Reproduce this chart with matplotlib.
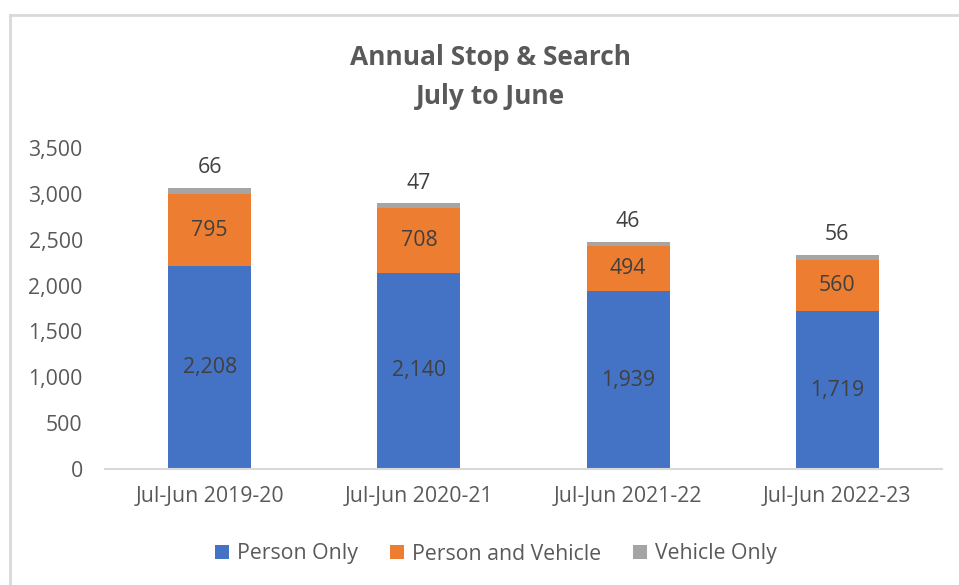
import matplotlib.pyplot as plt
from matplotlib.lines import Line2D
from matplotlib.ticker import FuncFormatter

plt.rcParams['font.family'] = ['Open Sans', 'DejaVu Sans']

# Annual stop & search counts, July to June
periods = ["Jul-Jun 2019-20", "Jul-Jun 2020-21", "Jul-Jun 2021-22", "Jul-Jun 2022-23"]
person_only = [2208, 2140, 1939, 1719]
person_and_vehicle = [795, 708, 494, 560]
vehicle_only = [66, 47, 46, 56]

BLUE = "#4472C4"
ORANGE = "#ED7D31"
GREY = "#A5A5A5"
TEXT = "#595959"
LABEL = "#404040"

fig = plt.figure(figsize=(9.59, 5.85), dpi=100)
ax = fig.add_axes([105 / 959, 1 - 469 / 585, 837 / 959, 321 / 585])

x = list(range(len(periods)))
w = 0.397
base2 = person_only
base3 = [a + b for a, b in zip(person_only, person_and_vehicle)]

b1 = ax.bar(x, person_only, w, color=BLUE, label="Person Only")
b2 = ax.bar(x, person_and_vehicle, w, bottom=base2, color=ORANGE, label="Person and Vehicle")
b3 = ax.bar(x, vehicle_only, w, bottom=base3, color=GREY, label="Vehicle Only")

ax.bar_label(b1, labels=[f"{v:,}" for v in person_only], label_type="center",
             fontsize=15.3, color=LABEL)
ax.bar_label(b2, labels=[f"{v:,}" for v in person_and_vehicle], label_type="center",
             fontsize=15.3, color=LABEL)
for xi, top, v in zip(x, base3, vehicle_only):
    ax.annotate(f"{v}", (xi, top + v), xytext=(0, 20), textcoords="offset pixels",
                ha="center", va="center", fontsize=15.3, color=LABEL)

ax.set_xlim(-0.5, len(periods) - 0.5)
ax.set_ylim(0, 3500)
ax.set_yticks(range(0, 3501, 500))
ax.yaxis.set_major_formatter(FuncFormatter(lambda v, p: f"{int(v):,}"))
ax.set_xticks(x)
ax.set_xticklabels(periods)
ax.tick_params(axis="y", length=0, pad=16, labelsize=15.3, labelcolor=TEXT)
ax.tick_params(axis="x", length=0, pad=12, labelsize=15.3, labelcolor=TEXT)

for s in ["top", "right", "left"]:
    ax.spines[s].set_visible(False)
ax.spines["bottom"].set_color("#D9D9D9")
ax.spines["bottom"].set_linewidth(1.5)

fig.text(490 / 959, 1 - 77 / 585, "Annual Stop & Search\nJuly to June", ha="center", va="center",
         fontsize=19, fontweight="bold", color=TEXT, linespacing=1.55)

# chart frame (left and top edges only)
fig.add_artist(Line2D([10 / 959, 10 / 959], [0, 1 - 15 / 585], transform=fig.transFigure,
                      color="#D9D9D9", lw=2))
fig.add_artist(Line2D([10 / 959, 1], [1 - 15 / 585, 1 - 15 / 585], transform=fig.transFigure,
                      color="#D9D9D9", lw=2))

fig.legend(handles=[b1, b2, b3], loc="center", bbox_to_anchor=(496 / 959, 1 - 554 / 585),
           ncol=3, frameon=False, fontsize=15.3, labelcolor=TEXT, handlelength=0.65,
           handleheight=0.65, handletextpad=0.4, columnspacing=1.5)

fig.savefig("out.png", dpi=100)
